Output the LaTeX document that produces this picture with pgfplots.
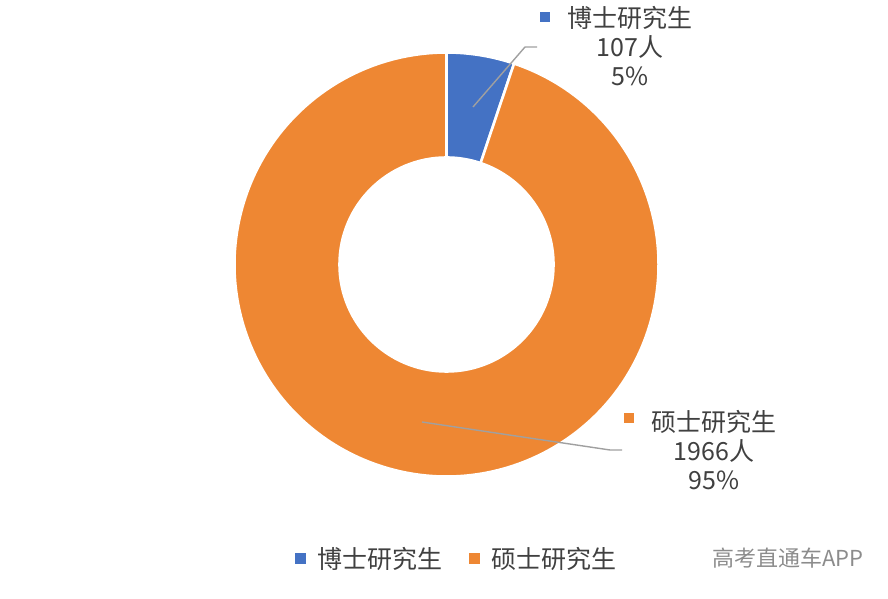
\documentclass[border=0pt]{standalone}
\usepackage{pgfplots}
\pgfplotsset{compat=1.18}
\usepackage{pgfplotstable}
\usepackage{fontspec}
\setmainfont{Noto Sans CJK SC}

\definecolor{phd}{HTML}{4472C4}
\definecolor{msc}{HTML}{EE8733}
\definecolor{lbl}{HTML}{404040}
\definecolor{lead}{HTML}{A0A0A0}
\definecolor{mark}{HTML}{8C8C8C}

% degree  count
\pgfplotstableread{
value
107
1966
}\students

\pgfkeys{/pgf/number format/.cd, fixed, precision=0, 1000 sep={}, assume math mode=true}

\begin{document}
\begin{tikzpicture}
\pgfplotstablegetelem{0}{value}\of\students \let\vA\pgfplotsretval
\pgfplotstablegetelem{1}{value}\of\students \let\vB\pgfplotsretval
\pgfmathsetmacro\total{\vA+\vB}
\pgfmathsetmacro\fA{\vA/\total}
\pgfmathsetmacro\aEnd{90-360*\fA}
\pgfmathsetmacro\pA{round(100*\fA)}
\pgfmathsetmacro\pB{round(100*(1-\fA))}
\begin{axis}[
    x=1bp, y=1bp,
    xmin=0, xmax=888, ymin=0, ymax=599,
    hide axis,
    clip=false,
  ]
  \path (axis cs:0,0) rectangle (axis cs:888,599);
  % donut
  \begin{scope}[shift={(axis cs:446.5,334.5)}, draw=white, line width=2.6bp, line join=round]
    \filldraw[fill=phd] (90:212bp) arc[start angle=90, end angle=\aEnd, radius=212bp]
      -- (\aEnd:107bp) arc[start angle=\aEnd, end angle=90, radius=107bp] -- cycle;
    \filldraw[fill=msc] (\aEnd:212bp) arc[start angle=\aEnd, end angle=-270, radius=212bp]
      -- (-270:107bp) arc[start angle=-270, end angle=\aEnd, radius=107bp] -- cycle;
  \end{scope}
  % leader lines
  \draw[lead, line width=1.4bp] (axis cs:473,492) -- (axis cs:525,552) -- (axis cs:537,552);
  \draw[lead, line width=1.4bp] (axis cs:422,177) -- (axis cs:610,149) -- (axis cs:622,149);
  % data labels
  \begin{scope}[every node/.style={inner sep=0pt, text=lbl, font=\fontsize{25bp}{28bp}\selectfont}]
    \fill[phd] (axis cs:540,577) rectangle (axis cs:550,587);
    \node at (axis cs:630,581) {博士研究生};
    \node at (axis cs:630,552) {\pgfmathprintnumber{\vA}人};
    \node at (axis cs:630,523) {\pgfmathprintnumber{\pA}\%};
    \fill[msc] (axis cs:624,176) rectangle (axis cs:634,186);
    \node at (axis cs:714,177) {硕士研究生};
    \node at (axis cs:714,148) {\pgfmathprintnumber{\vB}人};
    \node at (axis cs:714,119) {\pgfmathprintnumber{\pB}\%};
    % legend
    \fill[phd] (axis cs:295,35) rectangle (axis cs:306,46);
    \node[anchor=west] at (axis cs:317,40) {博士研究生};
    \fill[msc] (axis cs:469,35) rectangle (axis cs:480,46);
    \node[anchor=west] at (axis cs:491,40) {硕士研究生};
  \end{scope}
  \node[inner sep=0pt, anchor=west, text=mark, font=\fontsize{22bp}{26bp}\selectfont] at (axis cs:712,41) {高考直通车APP};
\end{axis}
\end{tikzpicture}
\end{document}
